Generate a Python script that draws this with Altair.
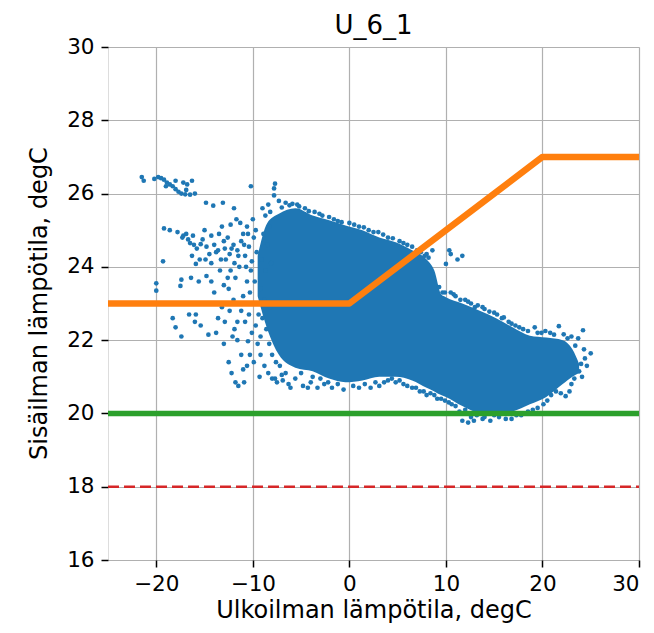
import altair as alt
import pandas as pd

# Dense core of the measurement cloud: upper and lower envelope per outdoor temperature
core_t = [-9.5, -8.5, -7.3, -5.6, -3.8, -2.1, -0.4, 1.35, 3.1, 4.8, 6.5, 8.0,
          8.8, 9.5, 10.0, 11.7, 13.5, 15.2, 16.9, 18.7, 20.4, 22.1, 23.1, 23.8]
core_top = [24.3, 25.2, 25.45, 25.6, 25.4, 25.27, 25.13, 25.0, 24.8, 24.67, 24.45, 24.2,
            23.9, 23.25, 23.17, 23.0, 22.8, 22.6, 22.35, 22.12, 22.07, 22.0, 21.75, 21.35]
core_bottom = [23.2, 22.3, 21.6, 21.25, 21.15, 20.95, 20.85, 20.9, 21.0, 21.0, 20.9, 20.7,
               20.6, 20.5, 20.45, 20.2, 20.0, 19.95, 20.05, 20.25, 20.45, 20.8, 21.0, 21.1]

# Individual readings (outdoor degC, indoor degC) outside the dense core
cold_cluster = [(-21.5, 26.45), (-21.3, 26.35), (-20.2, 26.4), (-19.8, 26.45), (-19.5, 26.42),
                (-19.2, 26.38), (-18.9, 26.3), (-18.6, 26.25), (-18.3, 26.2), (-18.0, 26.12),
                (-17.7, 26.05), (-17.4, 26.0), (-17.0, 25.98), (-16.5, 25.97), (-16.0, 26.0),
                (-17.2, 26.3), (-16.8, 26.25), (-16.3, 26.35), (-18.0, 26.35), (-19.0, 26.2),
                (-16.9, 26.1)]
cold_sparse = [(-20.0, 23.55), (-20.0, 23.35), (-19.3, 24.15), (-19.2, 25.05), (-18.6, 25.0),
               (-18.3, 22.6), (-18.0, 22.35), (-17.4, 22.1), (-17.4, 23.65), (-17.5, 23.48),
               (-17.2, 24.85), (-16.7, 24.75), (-16.1, 24.6), (-15.4, 24.62), (-16.6, 22.7),
               (-15.9, 22.7), (-16.0, 22.5), (-15.4, 22.4), (-15.9, 24.08), (-16.4, 23.7),
               (-15.6, 23.6), (-14.8, 23.75), (-14.3, 23.6), (-14.6, 22.15), (-13.8, 22.2),
               (-14.85, 25.75), (-14.1, 25.67), (-13.1, 25.75), (-11.95, 25.6), (-10.2, 26.2),
               (-13.5, 24.9), (-13.0, 24.7), (-12.6, 24.8), (-12.2, 24.5), (-13.8, 24.4),
               (-12.8, 24.2), (-12.1, 22.1), (-11.6, 22.0), (-10.5, 21.97), (-12.5, 21.4),
               (-12.2, 21.1), (-11.8, 20.85), (-11.5, 20.75), (-10.9, 20.85), (-13.0, 23.5),
               (-12.5, 23.4), (-11.8, 23.7), (-12.3, 23.9), (-11.5, 24.3), (-11.0, 24.9),
               (-10.6, 25.1), (-11.3, 25.2), (-12.0, 23.1), (-11.2, 22.8), (-10.8, 22.5),
               (-11.6, 22.5), (-13.2, 22.9), (-10.5, 24.9), (-10.9, 24.6), (-11.4, 24.0),
               (-11.9, 24.1), (-12.6, 23.7), (-13.4, 23.9), (-14.0, 23.3), (-13.6, 22.6),
               (-12.9, 22.5), (-12.4, 22.8), (-11.9, 22.3), (-13.0, 21.9), (-14.3, 24.1),
               (-14.9, 24.2), (-15.5, 24.2), (-16.3, 24.3), (-10.3, 21.6), (-10.6, 21.3),
               (-11.2, 21.6), (-11.0, 21.2)]
cold_band = [(-17.8, 24.95), (-17.3, 24.8), (-16.9, 24.9), (-16.5, 24.65), (-16.2, 24.85),
             (-15.8, 24.5), (-15.2, 24.75), (-14.8, 24.55), (-14.5, 24.35), (-14.0, 24.6),
             (-13.6, 24.45), (-13.3, 24.2), (-12.9, 24.5), (-12.4, 24.35), (-12.0, 24.6),
             (-11.6, 24.45), (-11.2, 24.7), (-10.8, 24.3), (-10.4, 24.55), (-10.1, 24.15),
             (-15.0, 25.0), (-14.3, 24.85), (-13.2, 25.1), (-12.3, 25.15), (-11.7, 25.3)]
cool_edge = [(-10.0, 25.3), (-9.7, 25.0), (-9.9, 24.8), (-9.6, 24.4), (-10.2, 23.9),
             (-9.8, 23.6), (-10.3, 23.3), (-9.9, 23.0), (-10.4, 22.7), (-9.7, 22.4),
             (-10.1, 22.2), (-9.5, 21.9), (-9.2, 21.6), (-8.8, 21.3), (-8.4, 21.1),
             (-9.9, 21.4), (-9.3, 21.0), (-10.6, 23.6), (-11.0, 23.2), (-10.7, 24.0),
             (-9.4, 22.7), (-9.2, 22.1), (-8.7, 25.4), (-8.2, 25.5), (-8.9, 24.9),
             (-8.5, 24.6), (-9.1, 24.2), (-8.7, 23.9), (-9.2, 23.4), (-8.8, 23.1),
             (-9.0, 22.6), (-8.6, 22.3), (-8.3, 21.9), (-8.0, 21.6), (-7.6, 21.4),
             (-8.2, 22.9), (-8.1, 24.1), (-8.3, 25.1), (-7.7, 20.95), (-7.0, 21.05)]
low_edge = [(-8.0, 20.95), (-7.5, 20.85), (-6.9, 20.9), (-6.3, 20.8), (-5.6, 20.95),
            (-4.8, 20.75), (-4.0, 20.85), (-3.3, 20.7), (-2.6, 20.8), (-1.8, 20.7),
            (-6.1, 20.7), (-4.3, 20.7), (-0.6, 20.65), (1.0, 20.7), (3.1, 20.75), (2.2, 20.7),
            (0.4, 20.75), (-1.2, 20.8), (-2.2, 20.85), (-3.0, 20.95), (-3.8, 21.0),
            (-5.0, 21.1), (-6.6, 21.1), (-7.2, 21.3), (1.6, 20.8), (2.7, 20.85),
            (3.6, 20.85), (4.4, 20.95), (5.2, 20.9), (6.0, 20.75), (6.9, 20.7), (7.7, 20.6)]
top_edge = [(-9.0, 25.6), (-8.4, 25.7), (-7.8, 25.95), (-7.8, 26.14), (-7.7, 26.27),
            (-7.3, 25.8), (-6.6, 25.75), (-5.9, 25.72), (-5.2, 25.65), (-4.6, 25.6),
            (-3.1, 25.45), (-2.1, 25.36), (-1.2, 25.25), (0.0, 25.2), (1.0, 25.1),
            (2.0, 25.0), (3.0, 24.95), (4.0, 24.8), (5.2, 24.7), (6.0, 24.6),
            (7.0, 24.45), (7.8, 24.3), (-7.0, 25.62), (-6.2, 25.68), (-5.4, 25.7),
            (-4.2, 25.52), (-3.6, 25.5), (-2.8, 25.4), (-1.6, 25.3), (-0.8, 25.22),
            (0.5, 25.15), (1.5, 25.08), (2.5, 24.95), (3.5, 24.88), (4.5, 24.78),
            (5.6, 24.65), (6.5, 24.55), (7.4, 24.4), (8.2, 24.25), (8.0, 24.35)]
warm_edge = [(8.6, 24.45), (10.35, 24.45), (10.5, 24.35), (11.2, 24.2), (11.7, 24.3),
             (10.0, 24.08), (9.65, 23.3), (10.5, 23.3), (11.0, 23.2), (12.0, 23.1),
             (12.6, 23.0), (13.3, 22.95), (14.0, 22.85), (15.0, 22.75), (15.8, 22.6),
             (16.5, 22.5), (17.2, 22.4), (18.0, 22.3), (19.2, 22.35), (19.9, 22.2),
             (20.8, 22.2), (21.7, 22.38), (22.2, 22.16), (23.0, 22.1), (23.7, 22.05),
             (24.2, 22.27), (25.0, 21.64), (24.4, 21.5), (23.8, 21.15), (24.0, 21.35),
             (23.3, 20.95), (22.4, 20.47), (21.9, 20.55), (21.4, 20.6), (20.5, 20.35),
             (19.5, 20.15), (18.5, 20.05), (17.8, 19.95), (16.8, 19.85), (16.2, 19.85),
             (15.5, 19.9), (14.6, 19.8), (13.8, 19.85), (12.9, 19.8), (12.3, 19.75),
             (11.7, 19.8), (12.0, 20.1), (11.0, 20.2), (10.3, 20.3), (9.5, 20.4),
             (8.8, 20.5), (8.0, 20.5), (7.3, 20.6), (6.5, 20.7), (5.6, 20.8),
             (4.8, 20.85), (4.0, 20.9), (9.3, 23.45), (9.9, 23.3), (10.8, 23.25),
             (11.5, 23.1), (12.3, 23.05), (13.0, 22.9), (13.8, 22.9), (14.5, 22.78),
             (15.3, 22.7), (16.0, 22.62), (16.8, 22.45), (17.6, 22.35), (18.5, 22.25),
             (19.5, 22.2), (20.3, 22.25), (21.2, 22.15), (22.6, 22.05), (23.4, 21.85),
             (24.3, 21.75), (24.6, 21.3), (24.1, 21.0), (23.0, 20.8), (22.8, 20.6),
             (20.9, 20.5), (20.1, 20.25), (19.0, 20.1), (17.3, 19.95), (15.0, 19.95),
             (14.0, 19.9), (13.2, 19.95), (12.6, 19.9), (11.4, 20.05), (10.6, 20.25),
             (9.9, 20.35), (9.1, 20.4), (8.4, 20.55)]

# Target curve and limits
target_t = [-25, 0, 20, 30]
target_y = [23, 23, 27, 27]
limit_t = [-25, 30]
lower_limit = 20
alarm_limit = 18

x_ticks = [-20, -10, 0, 10, 20, 30]
y_ticks = [16, 18, 20, 22, 24, 26, 28, 30]
plot_title = ["U_6_1"]

BLUE = "#1f77b4"
FONT = "DejaVu Sans"
W, H = 531, 513

core_df = pd.DataFrame({"t": core_t, "y": core_top, "y2": core_bottom})
scatter = cold_cluster + cold_sparse + cold_band + cool_edge + low_edge + top_edge + warm_edge
points_df = pd.DataFrame(scatter, columns=["t", "y"])
target_df = pd.DataFrame({"t": target_t, "y": target_y})
green_df = pd.DataFrame({"t": limit_t, "y": [lower_limit] * 2})
red_df = pd.DataFrame({"t": limit_t, "y": [alarm_limit] * 2})
title_df = pd.DataFrame({"label": plot_title})

x_axis = alt.Axis(values=x_ticks, title="Ulkoilman lämpötila, degC", grid=True,
                  gridColor="#b0b0b0", gridWidth=1.2, domain=False, tickColor="black",
                  tickSize=7, tickWidth=1.5, labelFontSize=21.5, labelPadding=6,
                  labelColor="black", labelFont=FONT, titleFont=FONT, titleFontSize=24,
                  titleFontWeight="normal", titleColor="black", titleY=57,
                  titleBaseline="alphabetic")
y_axis = alt.Axis(values=y_ticks, title="Sisäilman lämpötila, degC", grid=True,
                  gridColor="#b0b0b0", gridWidth=1.2, domain=False, tickColor="black",
                  tickSize=7, tickWidth=1.5, labelFontSize=21.5, labelPadding=7,
                  labelColor="black", labelFont=FONT, titleFont=FONT, titleFontSize=24,
                  titleFontWeight="normal", titleColor="black", titleAngle=270,
                  titleX=-69, titleY=256, titleAlign="center", titleBaseline="middle")

x_enc = alt.X("t:Q", axis=x_axis, scale=alt.Scale(domain=[-25, 30], nice=False, zero=False))
y_enc = alt.Y("y:Q", axis=y_axis, scale=alt.Scale(domain=[16, 30], nice=False, zero=False))

core = alt.Chart(core_df).mark_area(color=BLUE, opacity=1, clip=True,
                                    interpolate="monotone").encode(
    x=x_enc, y=y_enc, y2="y2:Q")
dots = alt.Chart(points_df).mark_circle(color=BLUE, opacity=1, size=22, clip=True).encode(
    x=x_enc, y=y_enc)
target = alt.Chart(target_df).mark_line(color="#ff7f0e", strokeWidth=6.5, strokeJoin="round",
                                        clip=True).encode(x=x_enc, y=y_enc)
green = alt.Chart(green_df).mark_line(color="#2ca02c", strokeWidth=5.5, clip=True).encode(
    x=x_enc, y=y_enc)
red = alt.Chart(red_df).mark_line(color="#d62728", strokeWidth=2.5, strokeDash=[11, 5],
                                  clip=True).encode(x=x_enc, y=y_enc)
heading = alt.Chart(title_df).mark_text(font=FONT, fontSize=26, color="black",
                                        align="center", baseline="alphabetic").encode(
    text="label:N", x=alt.value(W / 2), y=alt.value(-13))

chart = alt.layer(core, dots, target, green, red, heading).properties(
    width=W,
    height=H,
    padding={"left": 108, "top": 47, "right": 15, "bottom": 73},
    autosize=alt.AutoSizeParams(type="none"),
).configure_view(stroke="black", strokeWidth=1.5).configure(background="white")

chart.save("out.html", embed_options={"renderer": "svg", "actions": False})
